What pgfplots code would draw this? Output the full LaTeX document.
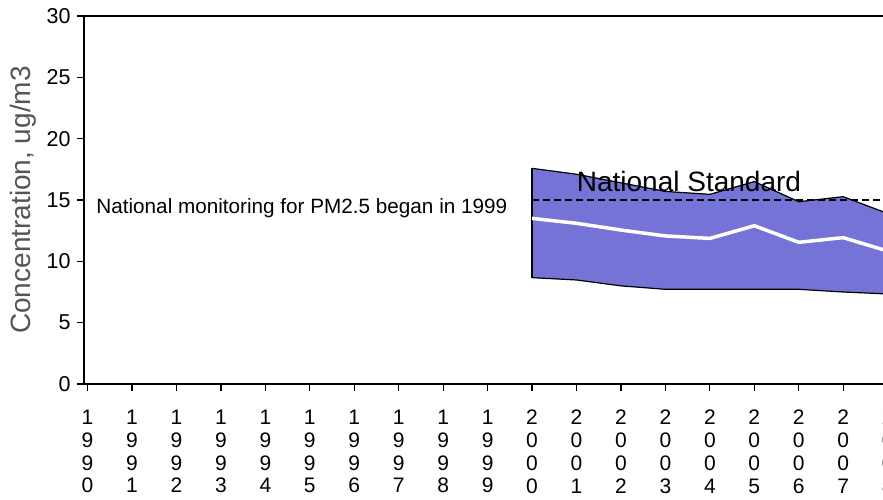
\documentclass[border=0pt]{standalone}
\usepackage{pgfplots}
\pgfplotsset{compat=1.18}
\usepgfplotslibrary{fillbetween}
\usepackage{fontspec}
\setmainfont{Liberation Sans}
\definecolor{bandblue}{RGB}{117,116,214}
\definecolor{labgray}{RGB}{85,85,85}
\pgfplotstableread{
year upper median lower
2000 17.58 13.50 8.67
2001 17.10 13.10 8.48
2002 16.40 12.55 8.00
2003 15.70 12.07 7.72
2004 15.46 11.87 7.72
2005 16.50 12.90 7.72
2006 14.86 11.55 7.72
2007 15.27 11.93 7.50
2008 13.90 10.84 7.34
}\datatab
\begin{document}
\begin{tikzpicture}
\begin{axis}[
  at={(84pt,116pt)}, anchor=south west,
  scale only axis, width=848.1pt, height=368pt,
  xmin=1989.92, xmax=2009, ymin=0, ymax=30,
  axis line style={line width=1.2pt},
  xtick={1990,1991,...,2008}, ytick={0,5,...,30},
  tick pos=left, tick align=outside, major tick length=7pt,
  tick style={line width=1.2pt, black},
  xticklabels={{1\\9\\9\\0},{1\\9\\9\\1},{1\\9\\9\\2},{1\\9\\9\\3},{1\\9\\9\\4},{1\\9\\9\\5},{1\\9\\9\\6},{1\\9\\9\\7},{1\\9\\9\\8},{1\\9\\9\\9},{2\\0\\0\\0},{2\\0\\0\\1},{2\\0\\0\\2},{2\\0\\0\\3},{2\\0\\0\\4},{2\\0\\0\\5},{2\\0\\0\\6},{2\\0\\0\\7},{2\\0\\0\\8}},
  xticklabel style={align=center, font=\fontsize{21}{22.8}\selectfont, anchor=north, yshift=-15.5pt},
  yticklabel style={font=\fontsize{21.5}{24}\selectfont, xshift=-3pt},
  /pgf/number format/assume math mode=true,
  ylabel={Concentration, ug/m3},
  ylabel style={font=\fontsize{28}{32}\selectfont, text=labgray, at={(axis description cs:-0.0719,0.5)}, anchor=center, rotate=0},
]
\addplot[name path=U, draw=none] table[x=year, y=upper] {\datatab};
\addplot[name path=L, draw=none] table[x=year, y=lower] {\datatab};
\addplot[bandblue] fill between[of=U and L];
\addplot[black, line width=1.2pt] table[x=year, y=upper] {\datatab};
\addplot[black, line width=1.2pt] table[x=year, y=lower] {\datatab};
\addplot[black, line width=1.2pt] coordinates {(2000,8.67) (2000,17.58)};
\addplot[white, line width=3.5pt] table[x=year, y=median] {\datatab};
\addplot[black, line width=1.3pt, dash pattern=on 7pt off 4pt] coordinates {(2000,15) (2009,15)};
\node[anchor=west, font=\fontsize{20.7}{24}\selectfont] at (axis cs:1990.12,14.35) {National monitoring for PM2.5 began in 1999};
\node[font=\fontsize{28}{32}\selectfont] at (axis cs:2003.53,16.47) {National Standard};
\end{axis}
\pgfresetboundingbox
\path[use as bounding box] (0,0) rectangle (883pt,500pt);
\end{tikzpicture}
\end{document}
